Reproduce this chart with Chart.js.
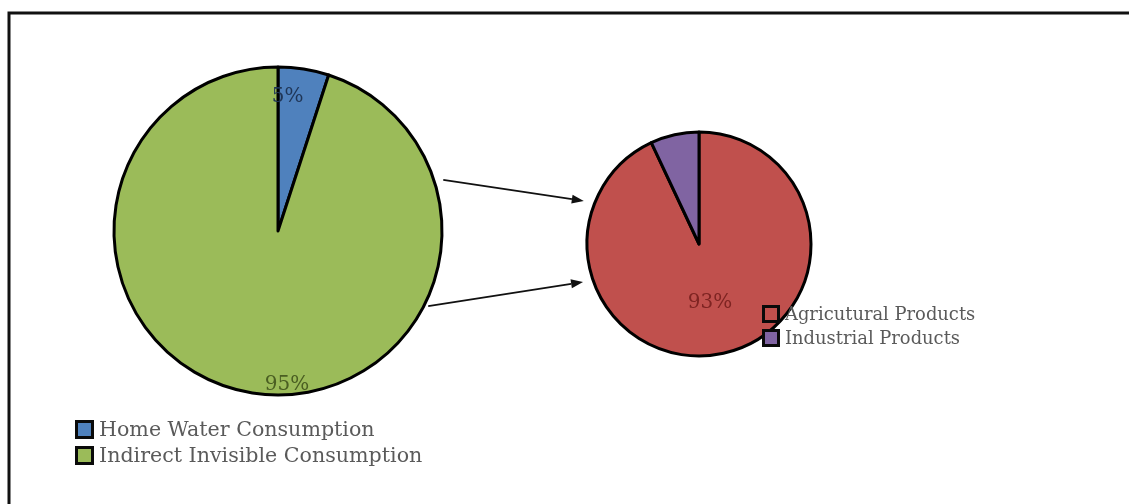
<!DOCTYPE html>
<html>
<head>
<meta charset="utf-8">
<script src="https://cdn.jsdelivr.net/npm/chart.js@4.4.1/dist/chart.umd.min.js"></script>
<style>
  html, body { margin: 0; padding: 0; background: #ffffff; }
  #stage { position: relative; width: 1129px; height: 504px; overflow: hidden; background: #ffffff; }
  #stage canvas { position: absolute; left: 0; top: 0; }
</style>
</head>
<body>
<div id="stage">
  <canvas id="waterPie" width="1129" height="504"></canvas>
  <canvas id="productPie" width="1129" height="504"></canvas>
</div>
<script>
// Total water footprint split
const waterCategories = ['Home Water Consumption', 'Indirect Invisible Consumption'];
const waterShares = [5, 95];
const waterColors = ['#4F81BD', '#9BBB59'];
const waterLabelColors = ['#1F3556', '#4A5E22'];

// Breakdown of the indirect part
const productCategories = ['Agricutural Products', 'Industrial Products'];
const productShares = [93, 7];
const productColors = ['#C0504D', '#8064A2'];
const productLabelColors = ['#7E2422', null];

const W = 1129, H = 504;
const SERIF = '"DejaVu Serif", "Liberation Serif", serif';

// Geometry of the two pies on the page
const bigPie = { cx: 278, cy: 231, r: 164, box: 400 };
const smallPie = { cx: 699, cy: 244, r: 112, box: 300 };

function paddingFor(p) {
  const half = p.box / 2;
  return { left: p.cx - half, top: p.cy - half, right: W - (p.cx + half), bottom: H - (p.cy + half) };
}

// Value labels, legend and page decorations
const decor = {
  id: 'decor',
  beforeDraw(chart, args, opts) {
    const ctx = chart.ctx;
    if (opts.frame) {
      ctx.save();
      ctx.fillStyle = '#ffffff';
      ctx.fillRect(0, 0, W, H);
      ctx.strokeStyle = '#111111';
      ctx.lineWidth = 3;
      ctx.beginPath();
      ctx.moveTo(9, H + 5);
      ctx.lineTo(9, 13);
      ctx.lineTo(W + 5, 13);
      ctx.stroke();
      ctx.restore();
    }
  },
  afterDatasetsDraw(chart, args, opts) {
    const ctx = chart.ctx;
    const meta = chart.getDatasetMeta(0);
    const ds = chart.data.datasets[0];

    // percentage labels inside the slices
    ctx.save();
    ctx.font = '20px ' + SERIF;
    ctx.textAlign = 'center';
    ctx.textBaseline = 'middle';
    meta.data.forEach((arc, i) => {
      const spot = opts.labelSpots[i];
      if (!spot) return;
      const p = arc.getProps(['x', 'y', 'startAngle', 'endAngle', 'outerRadius'], true);
      const a = p.startAngle + (p.endAngle - p.startAngle) * spot.along;
      const d = p.outerRadius * spot.out;
      ctx.fillStyle = opts.labelColors[i];
      ctx.fillText(ds.data[i] + '%', p.x + Math.cos(a) * d, p.y + Math.sin(a) * d);
    });
    ctx.restore();

    // legend
    const lg = opts.legend;
    ctx.save();
    ctx.font = lg.fontSize + 'px ' + SERIF;
    ctx.textAlign = 'left';
    ctx.textBaseline = 'middle';
    chart.data.labels.forEach((label, i) => {
      const y = lg.y + i * lg.row;
      ctx.fillStyle = ds.backgroundColor[i];
      ctx.fillRect(lg.x, y, lg.box, lg.box);
      ctx.strokeStyle = '#0a0a0a';
      ctx.lineWidth = 3;
      ctx.strokeRect(lg.x + 1.5, y + 1.5, lg.box - 3, lg.box - 3);
      ctx.fillStyle = '#5a5a5a';
      ctx.fillText(label, lg.x + lg.box + 5, y + lg.box / 2 + 1);
    });
    ctx.restore();

    // arrows leading from the large pie to its breakdown
    if (opts.arrows) {
      ctx.save();
      ctx.strokeStyle = '#111111';
      ctx.fillStyle = '#111111';
      ctx.lineWidth = 1.8;
      opts.arrows.forEach(ar => {
        const a0 = ar.from * Math.PI / 180, a1 = ar.to * Math.PI / 180;
        const x0 = bigPie.cx + Math.cos(a0) * (bigPie.r + ar.gap0);
        const y0 = bigPie.cy + Math.sin(a0) * (bigPie.r + ar.gap0);
        const x1 = smallPie.cx + Math.cos(a1) * (smallPie.r + ar.gap1);
        const y1 = smallPie.cy + Math.sin(a1) * (smallPie.r + ar.gap1);
        const ang = Math.atan2(y1 - y0, x1 - x0);
        const head = 12, wing = 4.5;
        const bx = x1 - Math.cos(ang) * head, by = y1 - Math.sin(ang) * head;
        ctx.beginPath();
        ctx.moveTo(x0, y0);
        ctx.lineTo(bx, by);
        ctx.stroke();
        ctx.beginPath();
        ctx.moveTo(x1, y1);
        ctx.lineTo(bx - Math.sin(ang) * wing, by + Math.cos(ang) * wing);
        ctx.lineTo(bx + Math.sin(ang) * wing, by - Math.cos(ang) * wing);
        ctx.closePath();
        ctx.fill();
      });
      ctx.restore();
    }
  }
};

function pieConfig(categories, values, colors, pie, decorOpts) {
  return {
    type: 'pie',
    data: {
      labels: categories,
      datasets: [{
        data: values,
        backgroundColor: colors,
        borderColor: '#000000',
        borderWidth: 3,
        borderJoinStyle: 'round',
        hoverOffset: 0
      }]
    },
    options: {
      responsive: false,
      animation: false,
      events: [],
      radius: pie.r,
      layout: { padding: paddingFor(pie) },
      plugins: {
        legend: { display: false },
        tooltip: { enabled: false },
        title: { display: false },
        decor: decorOpts
      }
    },
    plugins: [decor]
  };
}

new Chart(document.getElementById('waterPie'), pieConfig(
  waterCategories, waterShares, waterColors, bigPie, {
    frame: true,
    labelColors: waterLabelColors,
    labelSpots: [{ along: 0.23, out: 0.82 }, { along: 0.464, out: 0.94 }],
    legend: { x: 75, y: 420, box: 19, row: 26, fontSize: 20.6 },
    arrows: [
      { from: -17.2, gap0: 9, to: 200.5, gap1: 11 },
      { from: 26.6, gap0: 4, to: 161.9, gap1: 10 }
    ]
  }));

new Chart(document.getElementById('productPie'), pieConfig(
  productCategories, productShares, productColors, smallPie, {
    frame: false,
    labelColors: productLabelColors,
    labelSpots: [{ along: 0.506, out: 0.53 }, null],
    legend: { x: 762, y: 305, box: 18, row: 24, fontSize: 17.9 }
  }));
</script>
</body>
</html>
